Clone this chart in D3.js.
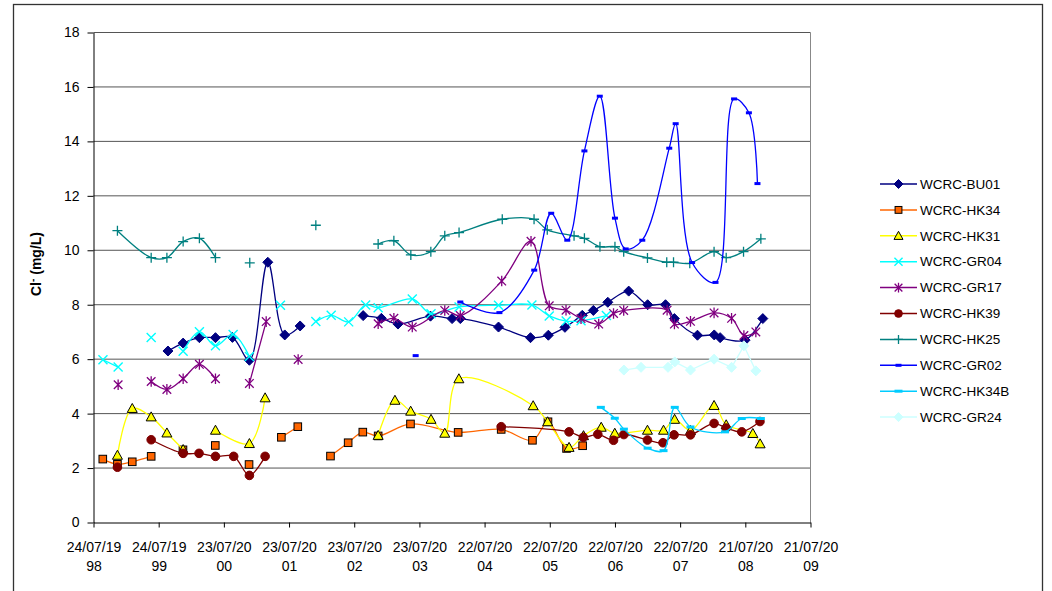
<!DOCTYPE html>
<html>
<head>
<meta charset="utf-8">
<script src="https://cdn.jsdelivr.net/npm/d3@7"></script>
<style>
  body { margin: 0; background: #fff; }
  svg { display: block; font-family: "Liberation Sans", Arial, sans-serif; }
</style>
</head>
<body>
<div id="chart"></div>
<script>
// sampling dates / values per station, null = break in line
const BU01 = [
  ['1999-09-14', 6.3], ['1999-12-08', 6.59], ['2000-03-08', 6.79], ['2000-06-06', 6.79],
  ['2000-09-09', 6.8], ['2000-12-13', 5.96], ['2001-03-26', 9.56], ['2001-06-29', 6.89],
  ['2001-09-23', 7.22], null,
  ['2002-09-11', 7.6], ['2002-12-22', 7.5], ['2003-03-25', 7.29], ['2003-09-23', 7.58],
  ['2004-01-22', 7.49], ['2004-03-08', 7.49], ['2004-10-08', 7.18], ['2005-04-05', 6.79],
  ['2005-07-14', 6.88], ['2005-10-15', 7.17], ['2006-01-20', 7.61], ['2006-03-23', 7.79],
  ['2006-06-12', 8.09], ['2006-10-07', 8.5], ['2007-01-21', 8.0], ['2007-05-01', 8.0],
  ['2007-06-20', 7.49], ['2007-10-27', 6.88], ['2008-01-29', 6.89], ['2008-03-02', 6.79],
  ['2008-07-20', 6.7], ['2008-10-27', 7.49]
];
const HK34 = [
  ['1998-09-14', 2.33], ['1998-12-05', 2.14], ['1999-02-26', 2.23], ['1999-06-12', 2.43], null,
  ['1999-12-07', 2.67], null,
  ['2000-06-05', 2.83], null,
  ['2000-12-11', 2.13], null,
  ['2001-06-10', 3.13], ['2001-09-10', 3.52], null,
  ['2002-03-12', 2.44], ['2002-06-19', 2.93], ['2002-09-09', 3.32], ['2002-12-04', 3.18],
  ['2003-06-03', 3.62], ['2004-02-25', 3.31], ['2004-10-23', 3.42], ['2005-04-16', 3.02],
  ['2005-07-12', 3.7], ['2005-10-24', 2.72], ['2006-01-22', 2.82]
];
const HK31 = [
  ['1998-12-05', 2.47], ['1999-02-26', 4.19], ['1999-06-12', 3.88], ['1999-09-08', 3.29],
  ['1999-12-08', 2.68], null,
  ['2000-06-06', 3.39], ['2000-12-13', 2.9], ['2001-03-11', 4.58], null,
  ['2002-12-04', 3.2], ['2003-03-08', 4.49], ['2003-06-04', 4.09], ['2003-09-26', 3.79],
  ['2003-12-12', 3.28], ['2004-02-29', 5.28], ['2005-04-20', 4.29], ['2005-07-10', 3.7],
  ['2005-11-07', 2.76], ['2006-01-27', 3.19], ['2006-05-06', 3.5], ['2006-07-21', 3.28],
  ['2007-01-20', 3.39], ['2007-04-20', 3.39], ['2007-06-21', 3.79], ['2007-09-18', 3.38],
  ['2008-01-28', 4.3], ['2008-04-05', 3.59], ['2008-09-01', 3.27], ['2008-10-12', 2.89]
];
const GR04 = [
  ['1998-09-15', 5.98], ['1998-12-09', 5.71], null,
  ['1999-06-12', 6.8], null,
  ['1999-12-08', 6.29], ['2000-03-08', 7.01], ['2000-06-06', 6.49], ['2000-09-13', 6.91],
  ['2000-12-13', 6.1], null,
  ['2001-06-05', 7.98], null,
  ['2001-12-20', 7.38], ['2002-03-16', 7.61], ['2002-06-22', 7.37], ['2002-09-25', 7.99],
  ['2002-12-04', 7.89], ['2003-06-13', 8.21], ['2003-09-26', 7.67], ['2004-03-01', 7.92],
  ['2004-10-08', 7.98], ['2005-04-13', 7.99], ['2005-07-19', 7.59], ['2005-10-22', 7.4],
  ['2006-01-13', 7.41], ['2006-06-04', 7.6]
];
const GR17 = [
  ['1998-12-09', 5.06], null,
  ['1999-06-12', 5.18], ['1999-09-08', 4.89], ['1999-12-08', 5.28], ['2000-03-08', 5.81],
  ['2000-06-06', 5.28], null,
  ['2000-12-13', 5.11], ['2001-03-17', 7.38], null,
  ['2001-09-12', 5.99], null,
  ['2002-12-04', 7.3], ['2003-03-02', 7.5], ['2003-06-13', 7.18], ['2003-12-12', 7.79],
  ['2004-03-08', 7.6], ['2004-10-26', 8.87], ['2005-04-08', 10.33], ['2005-07-19', 7.96],
  ['2005-10-21', 7.8], ['2006-01-13', 7.49], ['2006-04-22', 7.29], ['2006-07-14', 7.68],
  ['2006-09-09', 7.79], ['2007-05-10', 7.8], ['2007-06-20', 7.29], ['2007-09-18', 7.39],
  ['2008-01-28', 7.7], ['2008-05-05', 7.5], ['2008-07-13', 6.87], ['2008-09-18', 7.0]
];
const HK39 = [
  ['1998-12-05', 2.03], null,
  ['1999-06-12', 3.04], ['1999-12-08', 2.54], ['2000-03-06', 2.54], ['2000-06-06', 2.43],
  ['2000-09-16', 2.43], ['2000-12-13', 1.73], ['2001-03-11', 2.43], null,
  ['2004-10-23', 3.52], ['2005-11-07', 3.33], ['2006-01-26', 3.13], ['2006-04-17', 3.24],
  ['2006-07-14', 3.02], ['2006-09-10', 3.23], ['2007-01-20', 3.03], ['2007-04-17', 2.93],
  ['2007-06-18', 3.22], ['2007-09-18', 3.22], ['2008-01-28', 3.64], ['2008-04-05', 3.47],
  ['2008-07-01', 3.33], ['2008-10-11', 3.71]
];
const HK25 = [
  ['1998-12-05', 10.72], ['1999-06-12', 9.73], ['1999-09-08', 9.73], ['1999-12-08', 10.32],
  ['2000-03-08', 10.44], ['2000-06-06', 9.73], null,
  ['2000-12-15', 9.54], null,
  ['2001-12-20', 10.92], null,
  ['2002-12-04', 10.23], ['2003-03-02', 10.35], ['2003-06-05', 9.83], ['2003-09-25', 9.95],
  ['2003-12-12', 10.53], ['2004-03-01', 10.65], ['2004-10-29', 11.14], ['2005-04-25', 11.14],
  ['2005-07-08', 10.75], ['2005-12-05', 10.53], ['2006-02-01', 10.44], ['2006-04-29', 10.13],
  ['2006-07-22', 10.13], ['2006-09-09', 9.95], ['2007-01-20', 9.72], ['2007-05-08', 9.56],
  ['2007-06-15', 9.56], ['2007-09-14', 9.52], ['2008-01-28', 9.95], ['2008-04-05', 9.73],
  ['2008-07-11', 9.95], ['2008-10-16', 10.42]
];
const GR02 = [
  ['2003-07-02', 6.13], null,
  ['2004-03-08', 8.1], ['2004-10-13', 7.71], ['2005-04-26', 9.27], ['2005-07-30', 11.36],
  ['2005-10-28', 10.37], ['2006-02-01', 13.65], ['2006-04-28', 15.66], ['2006-07-22', 11.18],
  ['2006-09-20', 10.05], ['2006-12-22', 10.37], ['2007-05-22', 13.75], ['2007-06-27', 14.65],
  ['2007-09-27', 9.55], ['2008-02-05', 8.82], ['2008-05-19', 15.56], ['2008-08-10', 15.05],
  ['2008-09-27', 12.45]
];
const HK34B = [
  ['2006-05-04', 4.23], ['2006-07-21', 3.83], ['2006-09-10', 3.43], ['2007-01-21', 2.73],
  ['2007-04-20', 2.64], ['2007-06-22', 4.23], ['2007-09-18', 3.51], ['2008-03-29', 3.33],
  ['2008-07-01', 3.82], ['2008-10-16', 3.82]
];
const GR24 = [
  ['2006-09-10', 5.6], ['2006-12-15', 5.7], ['2007-05-15', 5.7], ['2007-06-22', 5.9],
  ['2007-09-18', 5.6], ['2008-01-28', 6.0], ['2008-05-05', 5.7], ['2008-07-13', 6.49],
  ['2008-09-18', 5.57]
];

const tickDates = ['1998-07-24', '1999-07-24', '2000-07-23', '2001-07-23', '2002-07-23', '2003-07-23',
  '2004-07-22', '2005-07-22', '2006-07-22', '2007-07-22', '2008-07-21', '2009-07-21'];
const yTicks = [0, 2, 4, 6, 8, 10, 12, 14, 16, 18];

const series = [
  { name: 'WCRC-BU01', data: BU01, color: '#000080', marker: 'diamond', fill: '#000080', smooth: true },
  { name: 'WCRC-HK34', data: HK34, color: '#FF6600', marker: 'square', fill: '#FF6600', smooth: true },
  { name: 'WCRC-HK31', data: HK31, color: '#FFFF00', marker: 'triangle', fill: '#FFFF00', smooth: true },
  { name: 'WCRC-GR04', data: GR04, color: '#00FFFF', marker: 'x', smooth: true },
  { name: 'WCRC-GR17', data: GR17, color: '#800080', marker: 'star', smooth: true },
  { name: 'WCRC-HK39', data: HK39, color: '#800000', marker: 'circle', fill: '#800000', smooth: true },
  { name: 'WCRC-HK25', data: HK25, color: '#008080', marker: 'plus', smooth: true },
  { name: 'WCRC-GR02', data: GR02, color: '#0000FF', marker: 'dash', smooth: true },
  { name: 'WCRC-HK34B', data: HK34B, color: '#00CCFF', marker: 'dash2', smooth: true },
  { name: 'WCRC-GR24', data: GR24, color: '#CCFFFF', marker: 'diamond', fill: '#CCFFFF', smooth: false }
];

const W = 1052, H = 591;
const parse = d3.utcParse('%Y-%m-%d');

const svg = d3.select('#chart').append('svg')
  .attr('width', W)
  .attr('height', H);

svg.append('rect')
  .attr('x', 13.5).attr('y', 4.5)
  .attr('width', 1029).attr('height', 640)
  .attr('fill', '#fff')
  .attr('stroke', '#333')
  .attr('stroke-width', 1.3);

const x = d3.scaleUtc()
  .domain([parse(tickDates[0]), parse(tickDates[tickDates.length - 1])])
  .range([93.5, 810.5]);
const y = d3.scaleLinear()
  .domain([0, 18])
  .range([522.5, 32.5]);

// gridlines
svg.append('g')
  .selectAll('line')
  .data(yTicks.filter(d => d > 0))
  .enter()
  .append('line')
  .attr('x1', 93.5).attr('x2', 810.5)
  .attr('y1', d => y(d)).attr('y2', d => y(d))
  .attr('stroke', '#555')
  .attr('stroke-width', 1);
svg.append('line')
  .attr('x1', 810.5).attr('x2', 810.5)
  .attr('y1', 32.5).attr('y2', 522.5)
  .attr('stroke', '#888');

// axes
const yAxis = svg.append('g')
  .attr('transform', 'translate(93.5,0)')
  .call(d3.axisLeft(y).tickValues(yTicks).tickSize(6).tickPadding(8).tickSizeOuter(0));
yAxis.selectAll('text').style('font-size', '14px').attr('fill', '#000');
yAxis.selectAll('line, path').attr('stroke', '#000');

const xAxis = svg.append('g')
  .attr('transform', 'translate(0,522.5)')
  .call(d3.axisBottom(x).tickValues(tickDates.map(parse)).tickSize(5).tickSizeOuter(0).tickFormat(''));
xAxis.selectAll('line, path').attr('stroke', '#000');
const fmt = d3.utcFormat('%d/%m/%Y');
xAxis.selectAll('.tick text').remove();
xAxis.selectAll('.tick').each(function (d) {
  const s = fmt(d);
  const t = d3.select(this).append('text')
    .attr('text-anchor', 'middle')
    .attr('fill', '#000')
    .style('font-size', '14px');
  t.append('tspan').attr('x', 0).attr('y', 29).text(s.slice(0, 8));
  t.append('tspan').attr('x', 0).attr('y', 48).text(s.slice(8));
});

// y title
const yt = svg.append('text')
  .attr('transform', 'translate(41,264) rotate(-90)')
  .attr('text-anchor', 'middle')
  .style('font-size', '14px')
  .style('font-weight', 'bold');
yt.append('tspan').text('Cl');
yt.append('tspan').attr('dy', -5).style('font-size', '10px').text('-');
yt.append('tspan').attr('dy', 5).text(' (mg/L)');

// markers
function drawMarker(g, s, cx, cy, small) {
  const k = small ? 0.9 : 1;
  if (s.marker === 'diamond') {
    const r = 5 * k;
    g.append('path').attr('d', `M${cx},${cy - r}L${cx + r},${cy}L${cx},${cy + r}L${cx - r},${cy}Z`)
      .attr('fill', s.fill).attr('stroke', s.fill);
  } else if (s.marker === 'square') {
    const r = 3.8 * k;
    g.append('rect').attr('x', cx - r).attr('y', cy - r).attr('width', 2 * r).attr('height', 2 * r)
      .attr('fill', s.fill).attr('stroke', '#000').attr('stroke-width', 1);
  } else if (s.marker === 'triangle') {
    const r = 5 * k;
    g.append('path').attr('d', `M${cx},${cy - r}L${cx + r},${cy + r * 0.8}L${cx - r},${cy + r * 0.8}Z`)
      .attr('fill', s.fill).attr('stroke', '#000').attr('stroke-width', 1);
  } else if (s.marker === 'circle') {
    g.append('circle').attr('cx', cx).attr('cy', cy).attr('r', 4.3 * k)
      .attr('fill', s.fill).attr('stroke', s.fill);
  } else if (s.marker === 'x') {
    const r = 4.5 * k;
    g.append('path').attr('d', `M${cx - r},${cy - r}L${cx + r},${cy + r}M${cx - r},${cy + r}L${cx + r},${cy - r}`)
      .attr('stroke', s.color).attr('stroke-width', 1.4).attr('fill', 'none');
  } else if (s.marker === 'star') {
    const r = 4.3 * k;
    g.append('path').attr('d', `M${cx - r},${cy - r}L${cx + r},${cy + r}M${cx - r},${cy + r}L${cx + r},${cy - r}M${cx},${cy - r - 1}L${cx},${cy + r + 1}`)
      .attr('stroke', s.color).attr('stroke-width', 1.3).attr('fill', 'none');
  } else if (s.marker === 'plus') {
    const r = 5 * k;
    g.append('path').attr('d', `M${cx - r},${cy}L${cx + r},${cy}M${cx},${cy - r}L${cx},${cy + r}`)
      .attr('stroke', s.color).attr('stroke-width', 1.3).attr('fill', 'none');
  } else if (s.marker === 'dash') {
    g.append('rect').attr('x', cx - 3).attr('y', cy - 1.5).attr('width', 6).attr('height', 3)
      .attr('fill', s.color);
  } else if (s.marker === 'dash2') {
    g.append('rect').attr('x', cx - 4).attr('y', cy - 1.5).attr('width', 8).attr('height', 3)
      .attr('fill', s.color);
  }
}

const plot = svg.append('g');
series.forEach(function (s) {
  const pts = s.data.map(d => d ? { date: parse(d[0]), v: d[1] } : null);
  const line = d3.line()
    .defined(d => d !== null)
    .x(d => x(d.date))
    .y(d => y(d.v))
    .curve(s.smooth ? d3.curveCatmullRom.alpha(0.5) : d3.curveLinear);
  const g = plot.append('g');
  g.append('path')
    .attr('d', line(pts))
    .attr('fill', 'none')
    .attr('stroke', s.color)
    .attr('stroke-width', 1.3);
  pts.filter(d => d).forEach(d => drawMarker(g, s, x(d.date), y(d.v), false));
});

// legend
const legend = svg.append('g');
series.forEach(function (s, i) {
  const ly = 184 + i * 25.9;
  const g = legend.append('g');
  g.append('line')
    .attr('x1', 880).attr('x2', 917)
    .attr('y1', ly).attr('y2', ly)
    .attr('stroke', s.color)
    .attr('stroke-width', 1.5);
  drawMarker(g, s, 898.5, ly, true);
  g.append('text')
    .attr('x', 920)
    .attr('y', ly)
    .attr('dy', '0.35em')
    .style('font-size', '13.5px')
    .attr('fill', '#000')
    .text(s.name);
});
</script>
</body>
</html>
